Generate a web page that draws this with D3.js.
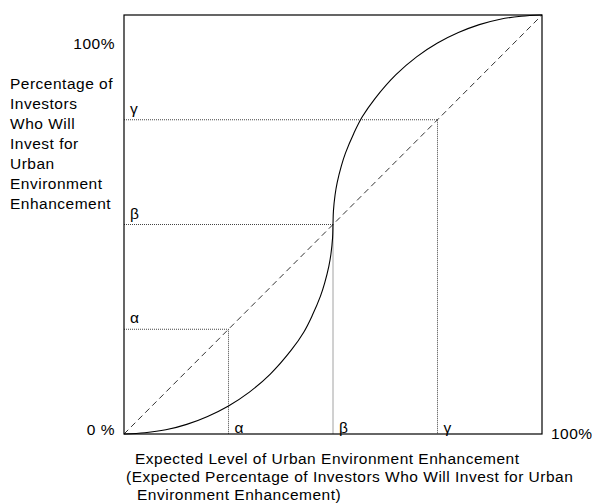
<!DOCTYPE html>
<html>
<head>
<meta charset="utf-8">
<script src="https://cdn.jsdelivr.net/npm/d3@7"></script>
<style>
	body { margin: 0; background: #fff; }
	text { font-family: "Liberation Sans", Arial, sans-serif; fill: #000; letter-spacing: 0.5px; }
</style>
</head>
<body>
<svg id="plot" width="592" height="504"></svg>
<script>
// guide levels on both axes
const LEVELS = [0.25, 0.5, 0.75];
const LEVEL_NAMES = ['α', 'β', 'γ'];

// S-curve (x = expected level, y = share of investors)
const CURVE_X = [0, 0.05, 0.1, 0.15, 0.2, 0.25, 0.3, 0.35, 0.4, 0.43, 0.45, 0.47, 0.48, 0.49, 0.495, 0.499, 0.5,
	0.501, 0.505, 0.51, 0.52, 0.53, 0.55, 0.57, 0.6, 0.65, 0.7, 0.75, 0.8, 0.85, 0.9, 0.95, 1];
const CURVE_Y = [0, 0.003, 0.01, 0.023, 0.042, 0.067, 0.1, 0.143, 0.2, 0.243, 0.282, 0.329, 0.36, 0.4, 0.429, 0.468, 0.5,
	0.532, 0.571, 0.6, 0.64, 0.671, 0.718, 0.757, 0.8, 0.857, 0.9, 0.933, 0.958, 0.977, 0.99, 0.997, 1];

const X_TICKS = ['0 %', '100%'];
const Y_TITLE = ['Percentage of', 'Investors', 'Who Will', 'Invest for', 'Urban', 'Environment', 'Enhancement'];
const X_TITLE = ['Expected Level of Urban Environment Enhancement',
	'(Expected Percentage of Investors Who Will Invest for Urban',
	'Environment Enhancement)'];

const svg = d3.select('#plot');
const x = d3.scaleLinear().domain([0, 1]).range([124, 542]);
const y = d3.scaleLinear().domain([0, 1]).range([434, 15]);
const FS = 15.5;

// dotted guides
LEVELS.forEach((v, i) => {
	svg.append('line')
		.attr('x1', x(0)).attr('x2', x(v))
		.attr('y1', y(v)).attr('y2', y(v))
		.attr('stroke', '#444').attr('stroke-width', 1)
		.attr('stroke-dasharray', '1,1');
	svg.append('line')
		.attr('x1', x(v)).attr('x2', x(v))
		.attr('y1', y(v)).attr('y2', y(0))
		.attr('stroke', '#444').attr('stroke-width', 1)
		.attr('stroke-dasharray', '1,1');
	// labels on the y side
	svg.append('text')
		.attr('x', x(0) + 6).attr('y', y(v) - 6)
		.attr('font-size', FS)
		.text(LEVEL_NAMES[i]);
	// labels on the x side
	svg.append('text')
		.attr('x', x(v) + 6).attr('y', y(0) - 1)
		.attr('font-size', FS)
		.text(LEVEL_NAMES[i]);
});

// diagonal
svg.append('line')
	.attr('x1', x(0)).attr('y1', y(0))
	.attr('x2', x(1)).attr('y2', y(1))
	.attr('stroke', '#333').attr('stroke-width', 1)
	.attr('stroke-dasharray', '6,4');

// curve
const line = d3.line()
	.x(d => x(d[0]))
	.y(d => y(d[1]))
	.curve(d3.curveCatmullRom);
svg.append('path')
	.datum(CURVE_X.map((v, i) => [v, CURVE_Y[i]]))
	.attr('d', line)
	.attr('fill', 'none')
	.attr('stroke', '#000')
	.attr('stroke-width', 1.1);

// frame
svg.append('rect')
	.attr('x', x(0)).attr('y', y(1))
	.attr('width', x(1) - x(0)).attr('height', y(0) - y(1))
	.attr('fill', 'none')
	.attr('stroke', '#000').attr('stroke-width', 1.2);

// tick labels
svg.append('text').attr('x', x(0) - 9).attr('y', y(1) + 34)
	.attr('text-anchor', 'end').attr('font-size', FS).text('100%');
svg.append('text').attr('x', x(0) - 9).attr('y', y(0) + 1)
	.attr('text-anchor', 'end').attr('font-size', FS).text(X_TICKS[0]);
svg.append('text').attr('x', x(1) + 9).attr('y', y(0) + 5)
	.attr('font-size', FS).text(X_TICKS[1]);

// y title
svg.append('text')
	.attr('font-size', FS)
	.selectAll('tspan')
	.data(Y_TITLE)
	.join('tspan')
	.attr('x', 10)
	.attr('y', (d, i) => 89 + i * 20)
	.text(d => d);

// x title
const xOff = [135, 126, 137];
svg.append('text')
	.attr('font-size', FS)
	.selectAll('tspan')
	.data(X_TITLE)
	.join('tspan')
	.attr('x', (d, i) => xOff[i])
	.attr('y', (d, i) => 464 + i * 18)
	.text(d => d);
</script>
</body>
</html>
